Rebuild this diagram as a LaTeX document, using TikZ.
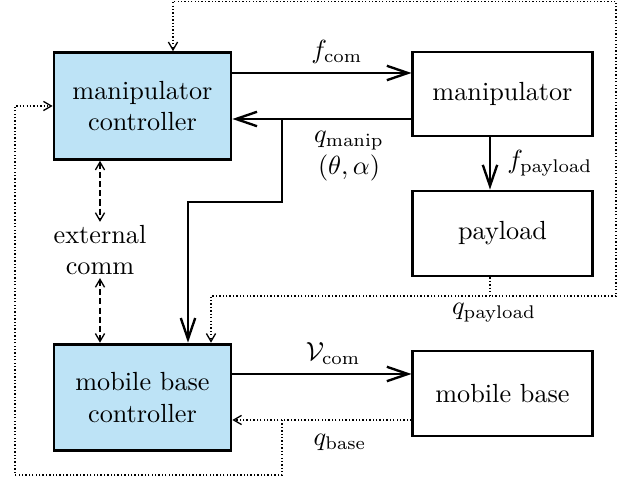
\documentclass[tikz,border=0pt]{standalone}
\usetikzlibrary{arrows.meta}
\definecolor{ctrlblue}{RGB}{189,227,246}
\tikzset{
	blk/.style={draw,line width=1.1pt,minimum width=2.4cm,minimum height=1.14cm,align=center,inner sep=1pt},
	ctrl/.style={blk,fill=ctrlblue,minimum width=2.37cm,minimum height=1.43cm},
	sig/.style={line width=0.8pt,-{Straight Barb[length=8pt,width=5.5pt,line width=0.9pt]}},
	fb/.style={dash pattern=on 0.5pt off 0.8pt,line width=0.5pt,-{Straight Barb[length=3pt,width=3.5pt]}},
	comm/.style={dash pattern=on 2.3pt off 1.2pt,line width=0.5pt,{Straight Barb[length=3pt,width=3.5pt]}-{Straight Barb[length=3pt,width=3.5pt]}}
}
\begin{document}
\begin{tikzpicture}[x=0.0134cm,y=-0.0134cm]
	\useasboundingbox (0,0) rectangle (625,480);
	\node[ctrl] (mc) at (142.5,106) {manipulator\\controller};
	\node[blk,minimum height=1.126cm] (m) at (502.5,94) {manipulator};
	\node[blk] (p) at (502.5,233.5) {payload};
	\node[ctrl] (bc) at (142.5,397.5) {mobile base\\controller};
	\node[blk] (b) at (502.5,393.5) {mobile base};
	\node[align=center,inner sep=1pt] (ext) at (100,250) {external\\comm};
	\path (282,119) coordinate (jm) (490,296) coordinate (jp) (282,420) coordinate (jb);
	% manipulator loop
	\draw[sig] (mc.east|-0,73) -- node[above,xshift=2mm] (lfc) {$f_{\mathrm{com}}$} (m.west|-0,73);
	\draw[sig] (m.west|-jm) -- (mc.east|-jm);
	\node[align=center,inner sep=0pt] (lqm) at (349,156) {$q_{\mathrm{manip}}$\\$(\theta,\alpha)$};
	\draw[sig] (jm) |- (188,202) -- (bc.north-|188,0);
	\draw[sig] (m.south-|jp) -- node[right,xshift=1mm] (lfp) {$f_{\mathrm{payload}}$} (p.north-|jp);
	% payload feedback
	\draw[fb] (p.south-|jp) |- (616,296) |- (173,1.2) -- (mc.north-|173,0);
	\draw[fb] (jp) -- (211,296) -- (bc.north-|211,0);
	\node (lqp) at (494,313) {$q_{\mathrm{payload}}$};
	% mobile base loop
	\draw[sig] (bc.east|-0,374) -- node[above,xshift=1.5mm] (lvc) {$\mathcal{V}_{\mathrm{com}}$} (b.west|-0,374);
	\draw[fb] (b.west|-jb) -- (bc.east|-jb);
	\node (lqb) at (340,442) {$q_{\mathrm{base}}$};
	\draw[fb] (jb) |- (15,475) |- (mc.west);
	% external comm
	\draw[comm] (mc.south-|ext) -- (ext.north);
	\draw[comm] (ext.south) -- (bc.north-|ext);
\end{tikzpicture}
\end{document}
